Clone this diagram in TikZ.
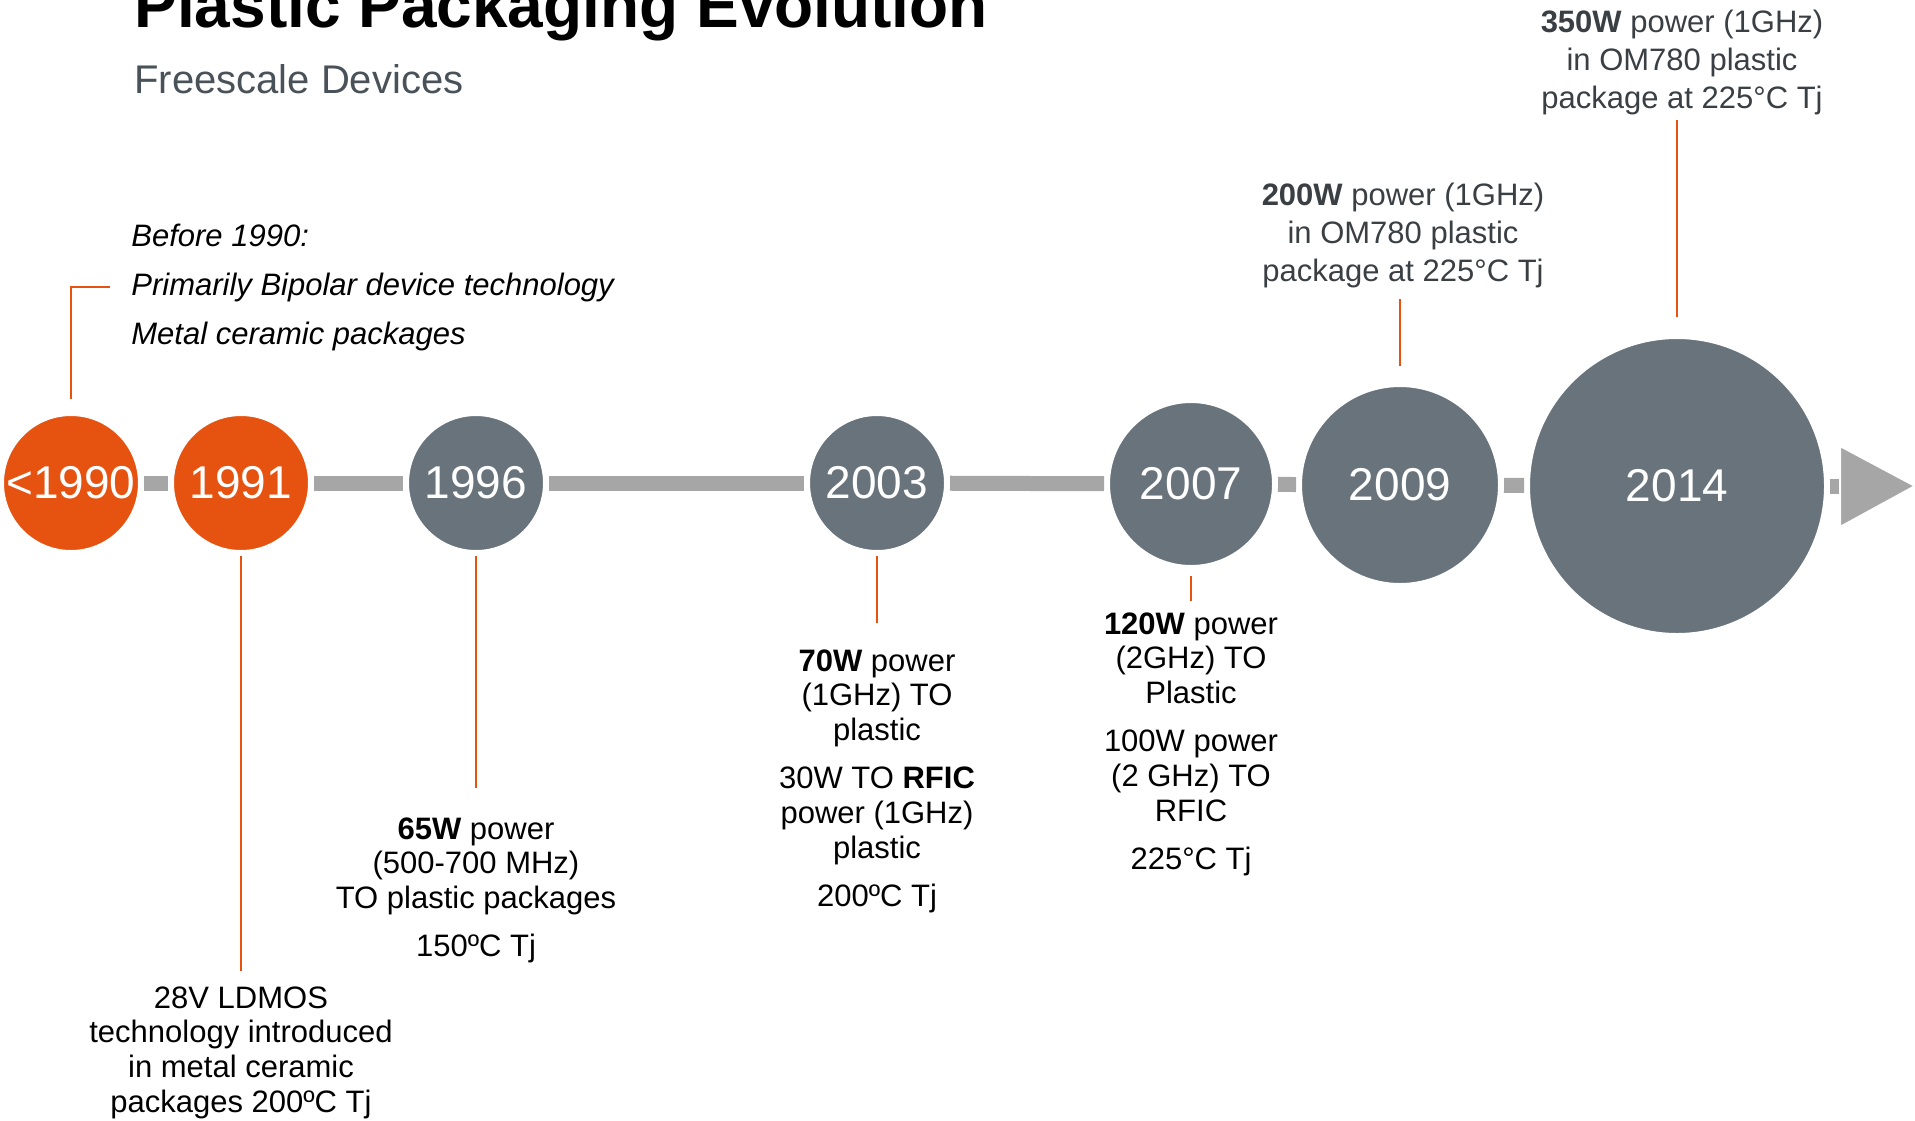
\documentclass[tikz,border=0pt]{standalone}
\usepackage{fontspec}
\setmainfont{Liberation Sans}
\definecolor{fsorange}{HTML}{E6520F}
\definecolor{fsgray}{HTML}{68737C}
\definecolor{bargray}{HTML}{A6A6A6}
\definecolor{subgray}{HTML}{4A5259}
\definecolor{notegray}{HTML}{3A3F44}
\newcommand{\notefont}{\fontsize{15.5pt}{17.4pt}\selectfont}
\newcommand{\topfont}{\fontsize{15.5pt}{19pt}\selectfont}
\newcommand{\paragap}{6.7pt}
\begin{document}
\begin{tikzpicture}[x=0.5pt, y=-0.5pt,
    year/.style={circle, draw=white, line width=3pt, text=white,
                 inner sep=0pt, font=\fontsize{23pt}{23pt}\selectfont},
    old/.style={year, fill=fsorange},
    new/.style={year, fill=fsgray},
    bar/.style={draw=bargray, line width=7.5pt},
    lead/.style={draw=fsorange, line width=1pt},
    note/.style={align=center, inner sep=0pt, font=\notefont},
    topnote/.style={note, font=\topfont, text=notegray}]
  \useasboundingbox (0,0) rectangle (1915,1120);
  % Title
  \node[anchor=base west, inner sep=0pt, font=\fontsize{32pt}{32pt}\selectfont\bfseries]
        (title) at (134,27) {Plastic Packaging Evolution};
  \node[anchor=base west, inner sep=0pt, text=subgray, font=\fontsize{20pt}{20pt}\selectfont]
        (subtitle) at (134,93) {Freescale Devices};
  % Draw years
  \node[old, minimum size=70pt]  (c1990) at (71,483)   {<1990};
  \node[old, minimum size=70pt]  (c1991) at (241,483)  {1991};
  \node[new, minimum size=70pt]  (c1996) at (476,483)  {1996};
  \node[new, minimum size=70pt]  (c2003) at (877,483)  {2003};
  \node[new, minimum size=84pt]  (c2007) at (1191,484) {2007};
  \node[new, minimum size=101pt] (c2009) at (1400,485) {2009};
  \node[new, minimum size=150pt] (c2014) at (1677,486) {2014};
  % Draw time bar
  \draw[bar] (c1990) -- (c1991);
  \draw[bar] (c1991) -- (c1996);
  \draw[bar] (c1996) -- (c2003);
  \draw[bar] (c2003) -- (c2007);
  \draw[bar] (c2007) -- (c2009);
  \draw[bar] (c2009) -- (c2014);
  \coordinate (arrowbase) at (1842,486);
  \draw[bar] (c2014) -- (arrowbase);
  \filldraw[fill=bargray, draw=white, line width=1pt]
        (1840,446) -- (1915,486) -- (1840,527) -- cycle;
  % Draw notes
  \node[anchor=north west, inner sep=0pt, align=left,
        font=\fontsize{15.5pt}{24.4pt}\selectfont\itshape]
        (t1990) at (131,224) {Before 1990:\\Primarily Bipolar device technology\\Metal ceramic packages};
  \node[note, anchor=north] (t1991) at (241,986)
        {28V LDMOS\\technology introduced\\in metal ceramic\\packages 200ºC Tj};
  \node[note, anchor=north] (t1996) at (476,817)
        {\textbf{65W} power\\(500-700 MHz)\\TO plastic packages\\[\paragap]150ºC Tj};
  \node[note, anchor=north] (t2003) at (877,649)
        {\textbf{70W} power\\(1GHz) TO\\plastic\\[\paragap]30W TO \textbf{RFIC}\\power (1GHz)\\plastic\\[\paragap]200ºC Tj};
  \node[note, anchor=north] (t2007) at (1191,612)
        {\textbf{120W} power\\(2GHz) TO\\Plastic\\[\paragap]100W power\\(2 GHz) TO\\RFIC\\[\paragap]225°C Tj};
  \node[topnote, anchor=north] (t2009) at (1403,183)
        {\textbf{200W} power (1GHz)\\in OM780 plastic\\package at 225°C Tj};
  \node[topnote, anchor=north] (t2014) at (1682,10)
        {\textbf{350W} power (1GHz)\\in OM780 plastic\\package at 225°C Tj};
  % Draw leaders
  \coordinate (e1990) at (110,287);
  \coordinate (e1991) at (241,971);
  \coordinate (e1996) at (476,788);
  \coordinate (e2003) at (877,623);
  \coordinate (e2007) at (1191,601);
  \coordinate (e2009) at (1400,299);
  \coordinate (e2014) at (1677,120);
  \draw[lead, shorten <=5.5pt] (c1990) |- (e1990);
  \draw[lead] (c1991) -- (e1991);
  \draw[lead] (c1996) -- (e1996);
  \draw[lead] (c2003) -- (e2003);
  \draw[lead, shorten <=2.5pt] (c2007) -- (e2007);
  \draw[lead, shorten <=7.5pt] (c2009) -- (e2009);
  \draw[lead, shorten <=8pt] (c2014) -- (e2014);
\end{tikzpicture}
\end{document}
